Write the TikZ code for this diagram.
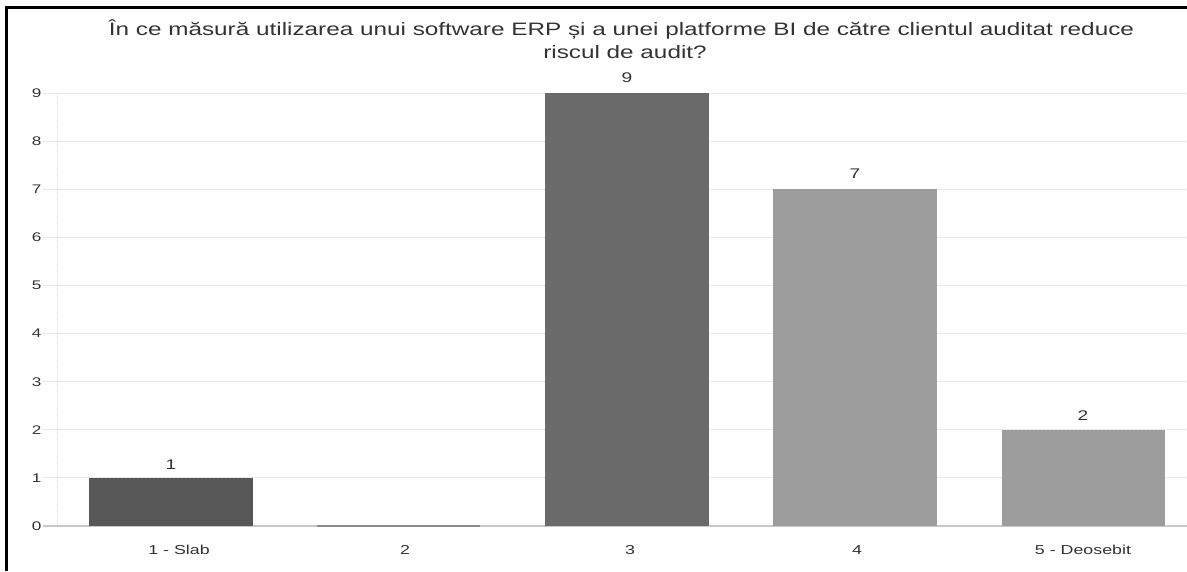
\documentclass[tikz,border=0pt]{standalone}
\usepackage{graphicx}
\usepackage{fontspec}
\setmainfont{Liberation Sans}
\definecolor{txt}{HTML}{333333}
\definecolor{gridc}{HTML}{E2E2E2}
\definecolor{zeroc}{HTML}{C8C8C8}
\definecolor{bardark}{HTML}{575757}
\definecolor{barmid}{HTML}{6A6A6A}
\definecolor{barlight}{HTML}{9D9D9D}
\definecolor{barzero}{HTML}{8A8A8A}
\newcommand{\hstretch}[1]{\scalebox{1.37}[1]{#1}}
\newcommand{\tstretch}[1]{\scalebox{1.35}[1]{#1}}
\tikzset{
  gridline/.style={draw=gridc, line width=1pt, dash pattern=on 3pt off 1pt},
  zeroline/.style={draw=zeroc, line width=1.2pt},
  axisline/.style={draw=gridc, line width=1pt, dash pattern=on 2pt off 1pt},
  ticklbl/.style={font=\fontsize{12.5}{14}\selectfont, text=txt, anchor=east, inner sep=0pt},
  vallbl/.style={font=\fontsize{14}{16}\selectfont, text=txt, inner sep=0pt},
  catlbl/.style={font=\fontsize{13}{15}\selectfont, text=txt, inner sep=0pt},
  titlelbl/.style={font=\fontsize{18}{21}\selectfont, text=txt, inner sep=0pt},
  frame/.style={draw=black, line width=3pt}
}
\begin{document}
\begin{tikzpicture}[x=1pt,y=-1pt]
\useasboundingbox (0,0) rectangle (1187,571);
\fill[white] (0,0) rectangle (1187,571);
% grid
\foreach \i in {1,...,9}{
  \draw[gridline] (43,{526-48.1*\i}) -- (1187,{526-48.1*\i});
}
\draw[axisline] (57,93) -- (57,526);
\draw[zeroline] (43,526) -- (1187,526);
\foreach \i in {0,...,9}{
  \node[ticklbl] (y\i) at (41.5,{526-48.1*\i}) {\hstretch{\i}};
}
% bars
\fill[bardark] (89,526) rectangle (253,477.9);
\fill[barzero] (317,524.8) rectangle (480,527.2);
\fill[barmid] (545,526) rectangle (709,93.1);
\fill[barlight] (773,526) rectangle (937,189.3);
\fill[barlight] (1002,526) rectangle (1165,429.8);
% value labels
\node[vallbl] (v1) at (171,465) {\hstretch{1}};
\node[vallbl] (v3) at (627,78) {\hstretch{9}};
\node[vallbl] (v4) at (855,174) {\hstretch{7}};
\node[vallbl] (v5) at (1083,416) {\hstretch{2}};
% category labels
\node[catlbl] (c1) at (179,550) {\hstretch{1 - Slab}};
\node[catlbl] (c2) at (405,550) {\hstretch{2}};
\node[catlbl] (c3) at (630,550) {\hstretch{3}};
\node[catlbl] (c4) at (857,550) {\hstretch{4}};
\node[catlbl] (c5) at (1083,550) {\hstretch{5 - Deosebit}};
% title
\node[titlelbl] (t1) at (621.5,30) {\tstretch{În ce măsură utilizarea unui software ERP și a unei platforme BI de către clientul auditat reduce}};
\node[titlelbl] (t2) at (625,52) {\tstretch{riscul de audit?}};
% frame
\draw[frame] (6.5,571) -- (6.5,7.5) -- (1187,7.5);
\end{tikzpicture}
\end{document}
